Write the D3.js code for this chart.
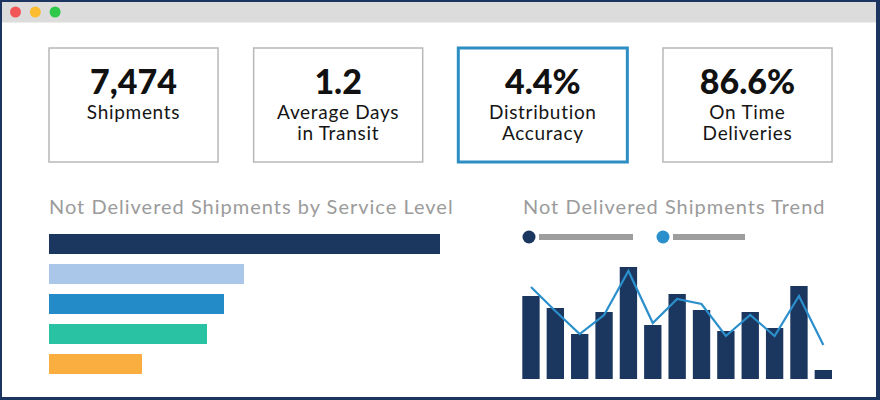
<!DOCTYPE html>
<html>
<head>
<meta charset="utf-8">
<script src="https://cdn.jsdelivr.net/npm/d3@7"></script>
<style>
  body { margin: 0; background: #fff; }
  svg { display: block; font-family: Lato, "Open Sans", sans-serif; }
</style>
</head>
<body>
<svg id="canvas" width="880" height="400"></svg>
<script>

// KPI tiles
var kpiValues = ["7,474", "1.2", "4.4%", "86.6%"];
var kpiLabels = [["Shipments"], ["Average Days", "in Transit"], ["Distribution", "Accuracy"], ["On Time", "Deliveries"]];
var kpiSelected = 2;

// left chart: not delivered by service level
var serviceLevels = ["L1", "L2", "L3", "L4", "L5"];
var serviceValues = [391, 195, 175, 158, 93];
var serviceColors = ["#1b365f", "#aac6e8", "#238bc7", "#29c2a2", "#f9ae3f"];

// right chart: trend
var trendPeriods = ["P01", "P02", "P03", "P04", "P05", "P06", "P07", "P08", "P09", "P10", "P11", "P12", "P13"];
var trendBars = [83, 71, 45, 67, 112, 54, 85, 69, 48, 67, 51, 93, 9];
var trendLine = [92, 68, 45, 64, 108, 56, 80, 75, 43, 64, 43, 83, 34];

var svg = d3.select("#canvas");

// window frame
svg.append("rect")
  .attr("x", 0).attr("y", 0).attr("width", 880).attr("height", 400)
  .attr("fill", "#1c3560");
svg.append("rect")
  .attr("x", 2).attr("y", 2).attr("width", 874).attr("height", 395)
  .attr("fill", "#fff");
svg.append("rect")
  .attr("x", 2).attr("y", 2).attr("width", 874).attr("height", 20.5)
  .attr("fill", "#dcdcdc");

svg.selectAll("circle.dot")
  .data(["#f25757", "#fbbd2f", "#2ec84b"])
  .enter()
  .append("circle")
  .attr("class", "dot")
  .attr("cx", function(d, i) { return 15.5 + i * 19.8; })
  .attr("cy", 12)
  .attr("r", 5.5)
  .attr("fill", function(d) { return d; });

// KPI boxes
var kx = d3.scaleBand()
  .domain(d3.range(kpiValues.length))
  .range([49, 832])
  .paddingInner(0.174);

var tiles = svg.selectAll("g.kpi")
  .data(kpiValues)
  .enter()
  .append("g")
  .attr("class", "kpi")
  .attr("transform", function(d, i) { return "translate(" + kx(i) + ",48)"; });

tiles.append("rect")
  .attr("width", kx.bandwidth())
  .attr("height", 114)
  .attr("fill", "#fff")
  .attr("stroke", function(d, i) { return i === kpiSelected ? "#2d8ec4" : "#b8b8b8"; })
  .attr("stroke-width", function(d, i) { return i === kpiSelected ? 3 : 1.5; });

tiles.append("text")
  .attr("x", kx.bandwidth() / 2)
  .attr("y", 46)
  .attr("text-anchor", "middle")
  .attr("font-size", 34)
  .attr("font-weight", 900)
  .attr("fill", "#111")
  .text(function(d) { return d; });

tiles.each(function(d, i) {
  d3.select(this).selectAll("text.lbl")
    .data(kpiLabels[i])
    .enter()
    .append("text")
    .attr("class", "lbl")
    .attr("x", kx.bandwidth() / 2)
    .attr("y", function(t, j) { return 71 + j * 21; })
    .attr("text-anchor", "middle")
    .attr("font-size", 19)
    .attr("letter-spacing", 0.7)
    .attr("fill", "#151515")
    .text(function(t) { return t; });
});

// left chart
svg.append("text")
  .attr("x", 49).attr("y", 214)
  .attr("font-size", 20)
  .attr("letter-spacing", 1)
  .attr("fill", "#9b9b9b")
  .text("Not Delivered Shipments by Service Level");

var sx = d3.scaleLinear()
  .domain([0, d3.max(serviceValues)])
  .range([0, 391]);

var sy = d3.scaleBand()
  .domain(serviceLevels)
  .range([234, 374])
  .paddingInner(1 / 3);

svg.selectAll("rect.svc")
  .data(serviceValues)
  .enter()
  .append("rect")
  .attr("class", "svc")
  .attr("x", 49)
  .attr("y", function(d, i) { return sy(serviceLevels[i]); })
  .attr("width", function(d) { return sx(d); })
  .attr("height", sy.bandwidth())
  .attr("fill", function(d, i) { return serviceColors[i]; });

// right chart
svg.append("text")
  .attr("x", 523).attr("y", 214)
  .attr("font-size", 20)
  .attr("letter-spacing", 1)
  .attr("fill", "#9b9b9b")
  .text("Not Delivered Shipments Trend");

// legend
var legend = svg.selectAll("g.leg")
  .data([{ c: "#1b365f", w: 94 }, { c: "#2b8fcc", w: 72 }])
  .enter()
  .append("g")
  .attr("class", "leg")
  .attr("transform", function(d, i) { return "translate(" + (529 + i * 134) + ",237)"; });

legend.append("circle").attr("r", 6.5).attr("fill", function(d) { return d.c; });
legend.append("rect")
  .attr("x", 10).attr("y", -3)
  .attr("width", function(d) { return d.w; })
  .attr("height", 6)
  .attr("fill", "#9e9e9e");

var tx = d3.scaleBand()
  .domain(trendPeriods)
  .range([522.3, 832])
  .paddingInner(0.288);

var ty = d3.scaleLinear()
  .domain([0, 120])
  .range([379, 259]);

svg.selectAll("rect.trend")
  .data(trendBars)
  .enter()
  .append("rect")
  .attr("class", "trend")
  .attr("x", function(d, i) { return tx(trendPeriods[i]); })
  .attr("y", function(d) { return ty(d); })
  .attr("width", tx.bandwidth())
  .attr("height", function(d) { return ty(0) - ty(d); })
  .attr("fill", "#1b365f");

var line = d3.line()
  .x(function(d, i) { return tx(trendPeriods[i]) + tx.bandwidth() / 2; })
  .y(function(d) { return ty(d); });

svg.append("path")
  .datum(trendLine)
  .attr("d", line)
  .attr("fill", "none")
  .attr("stroke", "#2b8fcc")
  .attr("stroke-width", 2.2);

</script>
</body>
</html>
